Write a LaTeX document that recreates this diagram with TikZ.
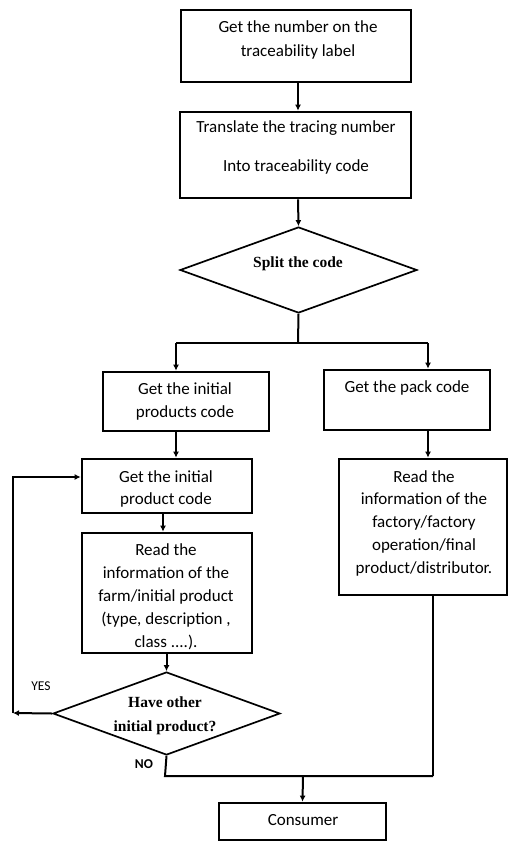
\documentclass[tikz,border=0pt]{standalone}
\usepackage{fontspec}
\setmainfont{Carlito}
\newfontfamily\dfont{Liberation Serif}
\usetikzlibrary{shapes.geometric,arrows.meta}
\begin{document}
\begin{tikzpicture}[x=1pt,y=-1pt,
  box/.style={draw,line width=2.7pt,rectangle,inner sep=0pt},
  dia/.style={draw,line width=1.7pt,diamond,inner sep=0pt},
  txt/.style={font=\fontsize{17}{23}\selectfont,align=center,inner sep=0pt,anchor=base},
  dtxt/.style={font=\dfont\bfseries\fontsize{15.5}{24}\selectfont,align=center,inner sep=0pt,anchor=base},
  lbl/.style={font=\fontsize{13.5}{15}\selectfont,inner sep=0pt,anchor=base},
  conn/.style={line width=2pt},
  arr/.style={conn,-{Latex[length=6pt,width=6pt]}}]
\useasboundingbox (0,0) rectangle (509,842);
% boxes
\node[box,minimum width=230pt,minimum height=72pt] (b1) at (296,46) {};
\node[box,minimum width=231pt,minimum height=86pt] (b2) at (295.5,155) {};
\node[dia,minimum width=237pt,minimum height=86pt] (d1) at (298.5,270) {};
\node[box,minimum width=166pt,minimum height=59pt] (b3) at (186,401.5) {};
\node[box,minimum width=166pt,minimum height=60pt] (b4) at (407,400) {};
\node[box,minimum width=170pt,minimum height=54pt] (b5) at (167,486) {};
\node[box,minimum width=170pt,minimum height=120pt] (b6) at (167,593) {};
\node[box,minimum width=168pt,minimum height=136pt] (b7) at (423,527) {};
\node[dia,minimum width=227pt,minimum height=83pt] (d2) at (166.5,713.5) {};
\node[box,minimum width=167pt,minimum height=37pt] (c) at (302.5,821.5) {};
% texts
\node[txt] (t1a) at (298,33) {Get the number on the};
\node[txt] (t1b) at (298,57) {traceability label};
\node[txt] (t2a) at (296,133) {Translate the tracing number};
\node[txt] (t2b) at (296,172) {Into traceability code};
\node[dtxt] (td1) at (298,267) {Split the code};
\node[txt] (t3a) at (185,394) {Get the initial};
\node[txt] (t3b) at (185,417) {products code};
\node[txt] (t4) at (407,392) {Get the pack code};
\node[txt] (t5a) at (166,482) {Get the initial};
\node[txt] (t5b) at (166,504) {product code};
\node[txt] (t6) at (166,647) {Read the\\information of the\\farm/initial product\\(type, description ,\\class ....).};
\node[txt,font=\fontsize{17}{22.75}\selectfont] (t7) at (424,573) {Read the\\information of the\\factory/factory\\operation/final\\product/distributor.};
\node[dtxt] (td2) at (165,731) {Have other\\initial product?};
\node[txt] (tc) at (303,825) {Consumer};
\node[lbl] (yes) at (41,690) {YES};
\node[lbl,font=\bfseries\fontsize{13.5}{15}\selectfont] (no) at (144,768) {NO};
% connectors
\draw[arr] (b1.south -| 298,0) -- (b2.north -| 298,0);
\draw[arr] (b2.south -| 298,0) -- (d1.north);
\coordinate (s) at (298,343);
\coordinate (sl) at (176,343);
\coordinate (sr) at (428,343);
\draw[conn] (d1.south) -- (s);
\draw[conn] (sl) -- (sr);
\draw[arr] (sl) -- (sl |- b3.north);
\draw[arr] (sr) -- (sr |- b4.north);
\draw[arr] (sl |- b3.south) -- (sl |- b5.north);
\draw[arr] (sr |- b4.south) -- (sr |- b7.north);
\coordinate (m5) at (163,0);
\draw[arr] (m5 |- b5.south) -- (m5 |- b6.north);
\draw[arr] (d2.north |- b6.south) -- (d2.north);
\coordinate (yl) at (13,713);
\coordinate (yt) at (13,477);
\draw[arr] (d2.west) -- (yl);
\draw[arr] (yl) -- (yt) -- (yt -| b5.west);
\coordinate (n1) at (165,776);
\coordinate (n2) at (433,776);
\coordinate (nc) at (303,776);
\draw[conn] (d2.south) -- (n1) -- (n2);
\draw[line width=1.2pt] (n2) -- (n2 |- b7.south);
\draw[arr] (nc) -- (c.north);
\end{tikzpicture}
\end{document}
